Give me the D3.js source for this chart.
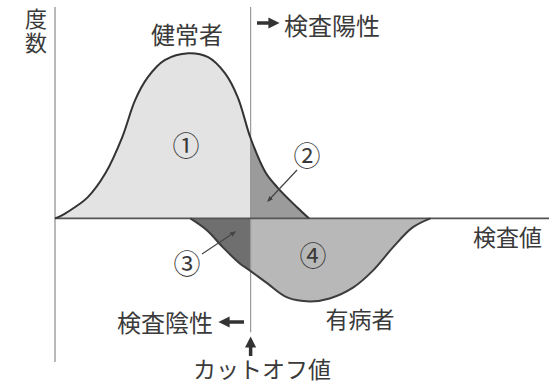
<!DOCTYPE html>
<html>
<head>
<meta charset="utf-8">
<script src="https://cdn.jsdelivr.net/npm/d3@7"></script>
<style>
  body { margin: 0; background: #fff; }
  text { font-family: "Noto Sans CJK JP", "Noto Sans", sans-serif; fill: #3a3a3a; }
</style>
</head>
<body>
<div id="chart"></div>
<script>
// 検査値 (x) and 度数 (y)
const healthyX = [0, 0.7, 2, 3.3, 5.1, 6.8, 8.1, 9.4, 11.1, 13.5, 15.5, 17.2, 18.5, 19.8, 21.3, 22.5, 24.5, 25.7];
const healthyY = [0, 1.8, 6.7, 12.7, 27.3, 49.1, 71.5, 85.5, 95.8, 100, 97.6, 87.9, 73.3, 48.5, 27.9, 18.8, 6.7, 0];
const diseasedX = [13.7, 15.4, 17.0, 18.7, 19.7, 21.5, 23.5, 25.8, 27.8, 30.2, 32.2, 34.2, 36.2, 38.0];
const diseasedY = [0, 7.3, 17.6, 27.3, 31.5, 39.4, 47.9, 50.3, 48.5, 41.8, 31.5, 17.6, 5.5, 0];
const cutoff = 19.8;
const labels = { freq: '度数', healthy: '健常者', diseased: '有病者', value: '検査値',
  pos: '検査陽性', neg: '検査陰性', cut: 'カットオフ値' };
const regions = ['①', '②', '③', '④'];

const width = 549, height = 386;
const svg = d3.select('#chart').append('svg')
  .attr('width', width).attr('height', height);

const x = d3.scaleLinear().domain([0, 50]).range([55, 549]);
const y = d3.scaleLinear().domain([-87, 128]).range([362, 7]);

const healthy = healthyX.map((v, i) => ({ x: v, y: healthyY[i] }));
const diseased = diseasedX.map((v, i) => ({ x: v, y: -diseasedY[i] }));

const defs = svg.append('defs');
defs.append('clipPath').attr('id', 'left')
  .append('rect').attr('x', 0).attr('y', 0).attr('width', x(cutoff)).attr('height', height);
defs.append('clipPath').attr('id', 'right')
  .append('rect').attr('x', x(cutoff)).attr('y', 0).attr('width', width - x(cutoff)).attr('height', height);
defs.append('marker').attr('id', 'tip')
  .attr('viewBox', '0 0 10 10').attr('refX', 8).attr('refY', 5)
  .attr('markerWidth', 5).attr('markerHeight', 5).attr('orient', 'auto')
  .append('path').attr('d', 'M0,1L10,5L0,9Z').attr('fill', '#444');
defs.append('marker').attr('id', 'bigtip')
  .attr('viewBox', '0 0 10 10').attr('refX', 5).attr('refY', 5)
  .attr('markerWidth', 3.2).attr('markerHeight', 3.2).attr('orient', 'auto')
  .append('path').attr('d', 'M0,0L10,5L0,10Z').attr('fill', '#333');

const curve = d3.curveCatmullRom.alpha(0.5);
const area = d3.area().x(d => x(d.x)).y0(y(0)).y1(d => y(d.y)).curve(curve);
const line = d3.line().x(d => x(d.x)).y(d => y(d.y)).curve(curve);

// filled regions ① ② ③ ④
svg.append('path').datum(healthy).attr('d', area).attr('fill', '#e3e3e3').attr('clip-path', 'url(#left)');
svg.append('path').datum(healthy).attr('d', area).attr('fill', '#9b9b9b').attr('clip-path', 'url(#right)');
svg.append('path').datum(diseased).attr('d', area).attr('fill', '#6f6f6f').attr('clip-path', 'url(#left)');
svg.append('path').datum(diseased).attr('d', area).attr('fill', '#b8b8b8').attr('clip-path', 'url(#right)');

// axes
svg.append('line').attr('x1', x(0)).attr('x2', x(0)).attr('y1', y(128)).attr('y2', y(-87))
  .attr('stroke', '#8a8a8a').attr('stroke-width', 1.2);
svg.append('line').attr('x1', x(cutoff)).attr('x2', x(cutoff)).attr('y1', y(128)).attr('y2', y(-69))
  .attr('stroke', '#999').attr('stroke-width', 1.2);
svg.append('line').attr('x1', x(0)).attr('x2', width).attr('y1', y(0)).attr('y2', y(0))
  .attr('stroke', '#555').attr('stroke-width', 1.6);

// curves
svg.append('path').datum(healthy).attr('d', line).attr('fill', 'none').attr('stroke', '#333').attr('stroke-width', 2);
svg.append('path').datum(diseased).attr('d', line).attr('fill', 'none').attr('stroke', '#3c3c3c').attr('stroke-width', 2);

// labels
const t = (s, px, py, anchor = 'start', size = 23) =>
  svg.append('text').attr('x', px).attr('y', py).attr('text-anchor', anchor)
    .attr('font-size', size).text(s);

t(labels.freq, 36, 8, 'start', 22).style('writing-mode', 'vertical-rl').style('letter-spacing', '2px');
t(labels.healthy, 187, 44, 'middle', 24);
t(labels.pos, 284, 35, 'start', 24);
t(labels.value, 542, 246, 'end');
t(labels.diseased, 360, 328, 'middle');
t(labels.neg, 117, 332, 'start', 24);
t(labels.cut, 262, 378, 'middle', 23);

const circ = [[186, 147], [307, 157], [187, 265], [313, 257]];
regions.forEach((r, i) => t(r, circ[i][0], circ[i][1] + 9, 'middle', 27).attr('fill', '#555'));

// leaders to ② and ③
svg.append('line').attr('x1', 297).attr('y1', 170).attr('x2', 268).attr('y2', 201)
  .attr('stroke', '#444').attr('stroke-width', 1.2).attr('marker-end', 'url(#tip)');
svg.append('line').attr('x1', 202).attr('y1', 254).attr('x2', 235).attr('y2', 232)
  .attr('stroke', '#444').attr('stroke-width', 1.2).attr('marker-end', 'url(#tip)');

// thick arrows
const arrow = (x1, y1, x2, y2) => svg.append('line')
  .attr('x1', x1).attr('y1', y1).attr('x2', x2).attr('y2', y2)
  .attr('stroke', '#333').attr('stroke-width', 3.5).attr('marker-end', 'url(#bigtip)');
arrow(257, 23, 274, 23);
arrow(244, 322, 224, 322);
arrow(x(cutoff), 356, x(cutoff), 342);
</script>
</body>
</html>
